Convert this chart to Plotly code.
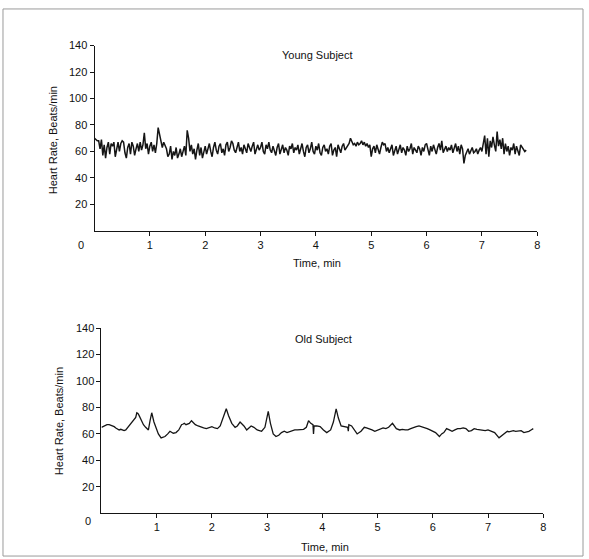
import plotly.graph_objects as go

# ---------------- data ----------------
young_step_min = 0.025
young_hr = [
    70, 69, 68, 68, 62, 69, 57, 65, 55, 63, 67, 58, 66, 64, 67, 56, 62, 67, 60, 66,
    68, 67, 59, 55, 63, 66, 58, 67, 64, 57, 62, 66, 60, 67, 61, 65, 74, 62, 66, 58,
    64, 67, 60, 65, 59, 66, 78, 73, 66, 63, 67, 65, 62, 56, 58, 64, 54, 60, 57, 63,
    55, 58, 62, 56, 60, 64, 57, 76, 70, 60, 65, 58, 62, 54, 61, 66, 57, 63, 55, 60,
    64, 58, 62, 66, 60, 56, 63, 67, 61, 58, 64, 66, 59, 62, 57, 65, 67, 60, 63, 68,
    66, 61, 59, 64, 67, 60, 63, 58, 65, 62, 59, 66, 63, 60, 64, 67, 58, 62, 65, 61,
    63, 67, 60, 58, 65, 62, 67, 61, 59, 64, 60, 57, 63, 66, 58, 62, 65, 59, 63, 61,
    57, 64, 62, 66, 59, 63, 61, 65, 58, 62, 66, 60, 56, 63, 65, 59, 62, 67, 60, 58,
    64, 61, 66, 59, 57, 63, 65, 60, 62, 58, 64, 66, 57, 61, 63, 56, 65, 62, 59, 64,
    66, 61, 63, 65, 66, 70, 68, 65, 66, 64, 67, 65, 66, 68, 65, 67, 64, 66, 63, 65,
    56, 62, 64, 59, 65, 61, 58, 63, 67, 65, 66, 60, 63, 59, 62, 65, 57, 61, 64, 58,
    62, 65, 59, 63, 61, 57, 64, 60, 62, 66, 58, 63, 61, 59, 64, 62, 57, 63, 60, 65,
    66, 62, 57, 64, 60, 65, 62, 58, 63, 66, 61, 68, 59, 62, 64, 60, 63, 61, 65, 59,
    63, 66, 60, 64, 58, 65, 62, 51, 57, 60, 62, 58, 61, 63, 59, 60, 62, 58, 61, 63,
    60, 66, 72, 58, 70, 56, 68, 63, 71, 65, 60, 75, 64, 69, 62, 70, 58, 66, 60, 64,
    57, 63, 61, 66, 58, 64, 60, 57, 65, 63, 62, 60, 61,
]
young_t = [i * young_step_min for i in range(len(young_hr))]

old_t = [
    0.00, 0.04, 0.07, 0.10, 0.14, 0.17, 0.20, 0.23, 0.26, 0.29, 0.32, 0.35, 0.38,
    0.41, 0.44, 0.47, 0.50, 0.53, 0.55, 0.58, 0.60, 0.62, 0.64, 0.66, 0.68,
    0.72, 0.76, 0.80, 0.85, 0.88, 0.91, 0.95, 0.98, 1.03, 1.08, 1.12, 1.15, 1.20,
    1.24, 1.30, 1.35, 1.40, 1.45, 1.48, 1.50, 1.53, 1.55, 1.59, 1.63, 1.67, 1.70,
    1.75, 1.80, 1.85, 1.90, 1.95, 2.00, 2.05, 2.10, 2.15, 2.20, 2.26, 2.30, 2.36,
    2.42, 2.46, 2.51, 2.55, 2.58, 2.63, 2.66, 2.71, 2.76, 2.82, 2.86, 2.90, 2.96,
    3.02, 3.06, 3.11, 3.16, 3.21, 3.26, 3.31, 3.36, 3.42, 3.46, 3.50, 3.55, 3.60,
    3.66, 3.71, 3.75, 3.79, 3.83, 3.84, 3.85, 3.90, 3.96, 4.02, 4.08, 4.15, 4.20,
    4.25, 4.29, 4.34, 4.40, 4.46, 4.47, 4.48, 4.53, 4.58, 4.63, 4.70, 4.76, 4.80,
    4.85, 4.90, 4.95, 5.02, 5.06, 5.10, 5.15, 5.20, 5.27, 5.34, 5.40, 5.45, 5.50,
    5.55, 5.60, 5.65, 5.70, 5.75, 5.80, 5.85, 5.90, 5.95, 6.00, 6.05, 6.12, 6.16,
    6.20, 6.25, 6.30, 6.35, 6.40, 6.45, 6.50, 6.55, 6.60, 6.65, 6.70, 6.75, 6.80,
    6.85, 6.90, 6.95, 7.00, 7.05, 7.12, 7.20, 7.24, 7.28, 7.32, 7.35, 7.38, 7.42,
    7.46, 7.50, 7.55, 7.60, 7.65, 7.70, 7.74, 7.78, 7.82, 7.87,
]
old_hr = [
    65, 66, 66.5, 67, 67, 66.5, 66.5, 65.5, 64.5, 63.5, 63, 63.5, 63,
    62.5, 63, 64.5, 66, 67.5, 69, 70, 71, 72.5, 76, 75.5, 74,
    70, 67, 65, 63, 70, 76, 69, 65, 60, 57, 57.5, 58, 60, 62, 60.5,
    61, 63, 67, 67.5, 68, 67, 67.5, 68, 70, 68.5, 67, 66, 65, 64.5,
    64, 65, 65.5, 64.5, 64, 66, 72, 79, 74, 68, 65, 66, 69, 67.5, 66,
    63, 64, 66, 65, 63, 62.5, 62, 65, 77, 68, 60, 58, 59, 61, 62, 61,
    62, 62.5, 63, 63, 63, 63.5, 65, 70, 68, 67, 60, 66, 66, 65.5, 63,
    61, 63, 69, 79, 72, 66, 65.5, 65, 62, 67, 66, 63, 60, 62, 65,
    64.5, 64, 63, 62, 63, 64, 64.5, 64, 65, 68, 64, 63, 63.5, 63,
    63, 64, 65, 65.5, 66, 65.5, 65, 64, 63, 62, 61, 58, 60, 61, 64,
    63, 62, 63, 64, 64, 64.5, 64, 62, 62.5, 64, 63.5, 63, 63, 62.5, 63,
    62, 61, 57, 58.5, 60, 61, 62, 61.5, 62, 62.5, 62, 62, 62.5, 61, 61.5,
    62, 63, 64,
]

y_ticks = [20, 40, 60, 80, 100, 120, 140]
x_ticks = [1, 2, 3, 4, 5, 6, 7, 8]
panel_titles = ["Young Subject", "Old Subject"]
x_title = "Time, min"
y_title = "Heart Rate, Beats/min"

# ---------------- figure ----------------
W, H = 589, 559
FONT = dict(family="Liberation Sans, Arial, Helvetica, sans-serif", size=11, color="#111111")
INK = "#151515"

fig = go.Figure()
fig.add_trace(go.Scatter(x=young_t, y=young_hr, mode="lines",
                         line=dict(color=INK, width=1.5), xaxis="x", yaxis="y",
                         showlegend=False, hoverinfo="skip"))
fig.add_trace(go.Scatter(x=old_t, y=old_hr, mode="lines",
                         line=dict(color=INK, width=1.3), xaxis="x2", yaxis="y2",
                         showlegend=False, hoverinfo="skip"))

def px_x(p):
    return p / W

def px_y(p):
    return 1 - p / H

axis_common = dict(showline=True, linecolor=INK, linewidth=1, showgrid=False,
                   zeroline=False, ticks="outside", ticklen=4, tickcolor=INK,
                   tickwidth=1, tickfont=FONT, fixedrange=True)

fig.update_layout(
    width=W, height=H,
    margin=dict(l=0, r=0, t=0, b=0),
    paper_bgcolor="white", plot_bgcolor="white",
    font=FONT,
    xaxis=dict(domain=[px_x(95), px_x(540)], range=[0, 8], tickvals=x_ticks,
               anchor="y", **axis_common),
    yaxis=dict(domain=[px_y(227.3), px_y(40)], range=[0, 140], tickvals=y_ticks,
               anchor="x", **axis_common),
    xaxis2=dict(domain=[px_x(102), px_x(546)], range=[0, 8], tickvals=x_ticks,
                anchor="y2", **axis_common),
    yaxis2=dict(domain=[px_y(512.7), px_y(325.7)], range=[0, 140], tickvals=y_ticks,
                anchor="x2", **axis_common),
)

ann = []
def add_text(text, xp, yp, angle=0):
    ann.append(dict(text=text, x=px_x(xp), y=px_y(yp), xref="paper", yref="paper",
                    showarrow=False, font=FONT, textangle=angle,
                    xanchor="center", yanchor="middle"))

add_text(panel_titles[0], 319, 50)
add_text(panel_titles[1], 325, 337)
add_text(x_title, 319, 260)
add_text(x_title, 327, 547)
add_text(y_title, 53, 136, angle=-90)
add_text(y_title, 60, 420, angle=-90)
add_text("0", 81, 242)
add_text("0", 88, 521)
fig.update_layout(annotations=ann)

# thin frame around the whole figure
fig.add_shape(type="rect", xref="paper", yref="paper",
              x0=px_x(3), x1=px_x(586), y0=px_y(556), y1=px_y(3),
              line=dict(color="#9a9a9a", width=1))

fig.write_html(
    "out.html",
    config={"displayModeBar": False, "staticPlot": True},
    post_script="document.body.style.margin='0px';document.body.style.padding='0px';"
                "document.body.style.overflow='hidden';",
)
